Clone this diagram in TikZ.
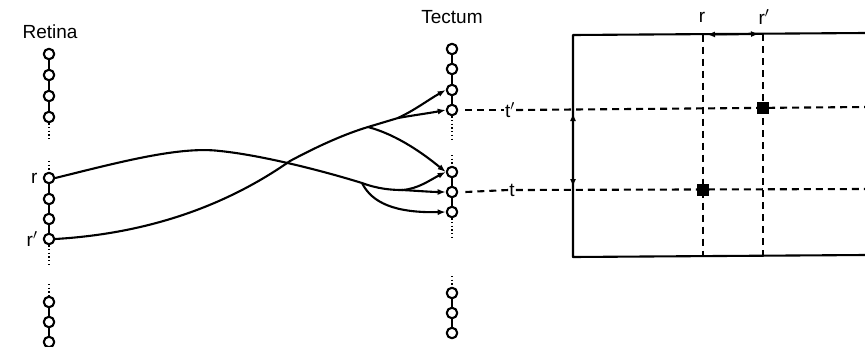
\documentclass[tikz,border=0pt]{standalone}
\usepackage{fontspec}
\setmainfont{Liberation Sans}
\usetikzlibrary{arrows.meta,calc,positioning}

\begin{document}
\begin{tikzpicture}[x=1pt,y=-1pt,line cap=round,line join=round,
  cell/.style={circle,draw,line width=2.1pt,fill=white,minimum size=10.5pt,inner sep=0pt},
  fibre/.style={line width=2.1pt},
  axon/.style={fibre,-{Latex[length=8pt,width=6pt]}},
  grid/.style={line width=2.1pt,line cap=butt,dash pattern=on 7pt off 5pt},
  dots/.style={line width=2pt,line cap=butt,dash pattern=on 1.3pt off 2.4pt},
  lbl/.style={font=\fontsize{19}{22}\selectfont,inner sep=1pt},
  spot/.style={fill=black,minimum size=12pt,inner sep=0pt}]
  \useasboundingbox (0,0) rectangle (865,346);
  % retina cells
  \foreach \n/\y in {1/54,2/75,3/96,4/117} \node[cell] (retA\n) at (49,\y) {};
  \foreach \n/\y in {1/178,2/199,3/219,4/239} \node[cell] (retB\n) at (49,\y) {};
  \foreach \n/\y in {1/302,2/322,3/342} \node[cell] (retC\n) at (49,\y) {};
  % tectum cells
  \foreach \n/\y in {1/49,2/69,3/90,4/110} \node[cell] (tecA\n) at (452,\y) {};
  \foreach \n/\y in {1/172,2/192,3/212} \node[cell] (tecB\n) at (452,\y) {};
  \foreach \n/\y in {1/293,2/313,3/333} \node[cell] (tecC\n) at (452,\y) {};
  % columns
  \foreach \c in {ret,tec} {
    \draw[fibre] (\c A1) -- (\c A2) (\c A2) -- (\c A3) (\c A3) -- (\c A4);
    \draw[fibre] (\c B1) -- (\c B2) (\c B2) -- (\c B3);
    \draw[fibre] (\c C1) -- (\c C2) (\c C2) -- (\c C3);
  }
  \draw[fibre] (retB3) -- (retB4);
  \coordinate (retAend) at (49,141);
  \coordinate (retBtop) at (49,161);
  \coordinate (retBend) at (49,265);
  \coordinate (retCtop) at (49,284);
  \coordinate (tecAend) at (452,140);
  \coordinate (tecBtop) at (452,155);
  \coordinate (tecBend) at (452,237);
  \coordinate (tecCtop) at (452,276);
  \foreach \c in {ret,tec} {
    \draw[dots] (\c A4) -- (\c Aend);
    \draw[dots] (\c Btop) -- (\c B1);
    \draw[dots] (\c Ctop) -- (\c C1);
  }
  \draw[dots] (retB4) -- (retBend);
  \draw[dots] (tecB3) -- (tecBend);
  % labels
  \node[lbl] (retina) at (50,32) {Retina};
  \node[lbl] (tectum) at (452,17) {Tectum};
  \node[lbl,left=4pt of retB1] (lr) {r};
  \node[lbl,left=4pt of retB4] (lrp) {r$'$};
  % fibres
  \coordinate (cross) at (290,161);
  \coordinate (brA) at (368,127);
  \coordinate (brB) at (398,118);
  \coordinate (brC) at (362,183);
  \coordinate (brD) at (402,190);
  \draw[fibre] (retB1.east) .. controls (120,162) and (180,146) .. (220,151)
    .. controls (260,155) and (320,170) .. (brC);
  \draw[fibre] (retB4.east) .. controls (140,234) and (220,210) .. (cross)
    .. controls (320,145) and (345,134) .. (brA) -- (brB);
  \draw[axon] (brB) .. controls (415,110) and (428,100) .. (tecA3.west);
  \draw[axon] (brB) .. controls (415,115) and (430,113) .. (tecA4.west);
  \draw[axon] (brA) .. controls (398,135) and (425,155) .. (tecB1.west);
  \draw[fibre] (brC) .. controls (378,189) and (392,190) .. (brD);
  \draw[axon] (brD) .. controls (420,191) and (432,192) .. (tecB2.west);
  \draw[axon] (brD) .. controls (418,189) and (430,180) .. (tecB1.west);
  \draw[axon] (brC) .. controls (372,203) and (395,213) .. (tecB3.west);
  % map
  \coordinate (boxTL) at (573,35);
  \coordinate (boxBL) at (573,257);
  \coordinate (boxTR) at (865,33);
  \coordinate (boxBR) at (865,255);
  \draw[fibre] (boxTR) -- (boxTL) -- (boxBL) -- (boxBR);
  \node[lbl] (tp) at (510,110) {t$'$};
  \node[lbl] (tt) at (512,190) {t};
  \node[lbl] (rr) at (702,17) {r};
  \node[lbl] (rp) at (764,17) {r$'$};
  \coordinate (rtop) at (703,34.5);
  \coordinate (rbot) at (703,256.5);
  \coordinate (rptop) at (763,34);
  \coordinate (rpbot) at (763,256);
  \coordinate (tpleft) at (573,109);
  \coordinate (tleft) at (573,191);
  \coordinate (tpend) at (865,107);
  \coordinate (tend) at (865,189);
  \draw[grid] (rtop) -- (rbot);
  \draw[grid] (rptop) -- (rpbot);
  \draw[grid] ($(tecA4.east)+(7,0)$) -- (tp.west);
  \draw[grid] (tp.east) -- (tpend);
  \draw[grid] ($(tecB2.east)+(7,0)$) -- (tt.west);
  \draw[grid] (tt.east) -- (tend);
  \draw[fibre,{Latex[length=8pt,width=6pt]}-{Latex[length=8pt,width=6pt]}] ($(rtop)+(4,0)$) -- ($(rptop)+(-4,0)$);
  \draw[fibre,{Latex[length=8pt,width=6pt]}-{Latex[length=8pt,width=6pt]}] ($(tpleft)+(0,4)$) -- ($(tleft)+(0,-4)$);
  \node[spot] (sp1) at (763,108) {};
  \node[spot] (sp2) at (703,190) {};
\end{tikzpicture}
\end{document}
